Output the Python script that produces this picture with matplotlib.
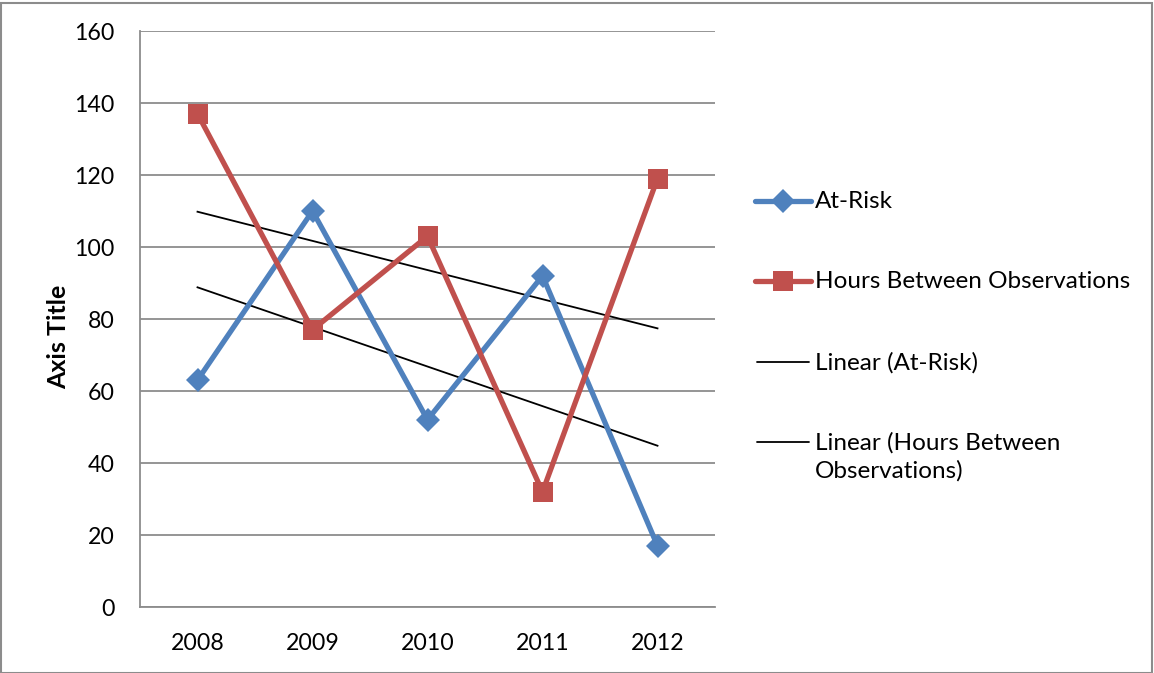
import numpy as np
import matplotlib.pyplot as plt
from matplotlib.lines import Line2D
from matplotlib.patches import Rectangle

plt.rcParams['font.family'] = ['Lato', 'DejaVu Sans']

years = ['2008', '2009', '2010', '2011', '2012']
at_risk = [63, 110, 52, 92, 17]
hours_between = [137, 77, 103, 32, 119]
y_ticks = [0, 20, 40, 60, 80, 100, 120, 140, 160]

BLUE = '#4F81BD'
RED = '#C0504D'
GRID = '#8C8C8C'

W, H = 1154, 673
fig = plt.figure(figsize=(W / 100, H / 100), dpi=100)
fig.patches.append(Rectangle((0.5 / W, 0.5 / H), 1 - 3 / W, 1 - 3 / H,
                             transform=fig.transFigure, fill=False,
                             edgecolor='#8C8C8C', linewidth=1.5))

ax = fig.add_axes([140 / W, 1 - 607 / H, (715 - 140) / W, (607 - 31) / H])
x = np.arange(len(years))

ax.set_xlim(-0.5, len(years) - 0.5)
ax.set_ylim(0, 160)
ax.set_yticks(y_ticks)
ax.set_xticks(x)
ax.set_xticklabels(years)
ax.yaxis.grid(True, color=GRID, linewidth=1.3)
ax.set_axisbelow(True)
for side in ('top', 'right'):
    ax.spines[side].set_visible(False)
for side in ('left', 'bottom'):
    ax.spines[side].set_color(GRID)
    ax.spines[side].set_linewidth(1.3)
ax.tick_params(axis='both', length=0, labelsize=16.7, colors='black')
ax.tick_params(axis='y', pad=18.5)
ax.tick_params(axis='x', pad=18.5)
ax.set_ylabel('Axis Title', fontsize=18, fontweight='bold')
ax.yaxis.set_label_coords(70 / W, 0.5, transform=fig.transFigure)

# linear trend lines fitted to each series
fit_ar = np.polyfit(x, at_risk, 1)
fit_hb = np.polyfit(x, hours_between, 1)

series_style = dict(linewidth=3.8, markeredgewidth=0, zorder=4)
ax.plot(x, at_risk, color=BLUE, marker='D', markersize=12.5, **series_style)
ax.plot(x, hours_between, color=RED, marker='s', markersize=14.5,
        **series_style)
ax.plot(x, np.polyval(fit_ar, x), color='black', linewidth=1.3, zorder=3)
ax.plot(x, np.polyval(fit_hb, x), color='black', linewidth=1.3, zorder=3)

# legend on the right, laid out in figure pixel coordinates
def fy(py):
    return 1 - py / H

legend_rows = [
    (201, 'At-Risk', dict(color=BLUE, linewidth=3.8, marker='D',
                          markersize=12.5, markeredgewidth=0)),
    (281, 'Hours Between Observations',
     dict(color=RED, linewidth=3.8, marker='s', markersize=14.5,
          markeredgewidth=0)),
    (362, 'Linear (At-Risk)', dict(color='black', linewidth=1.3)),
    (442, 'Linear (Hours Between\nObservations)',
     dict(color='black', linewidth=1.3)),
]
for py, label, style in legend_rows:
    thick = 'marker' in style
    x0, x1 = (755, 811) if thick else (757, 809)
    fig.add_artist(Line2D([x0 / W, (x0 + x1) / 2 / W, x1 / W],
                          [fy(py)] * 3, transform=fig.transFigure,
                          markevery=[1], solid_capstyle='round', **style))
    fig.text(815 / W, fy(py - 10), label, fontsize=17.5, va='top',
             ha='left', linespacing=1.38)

fig.savefig('out.png', dpi=100)
